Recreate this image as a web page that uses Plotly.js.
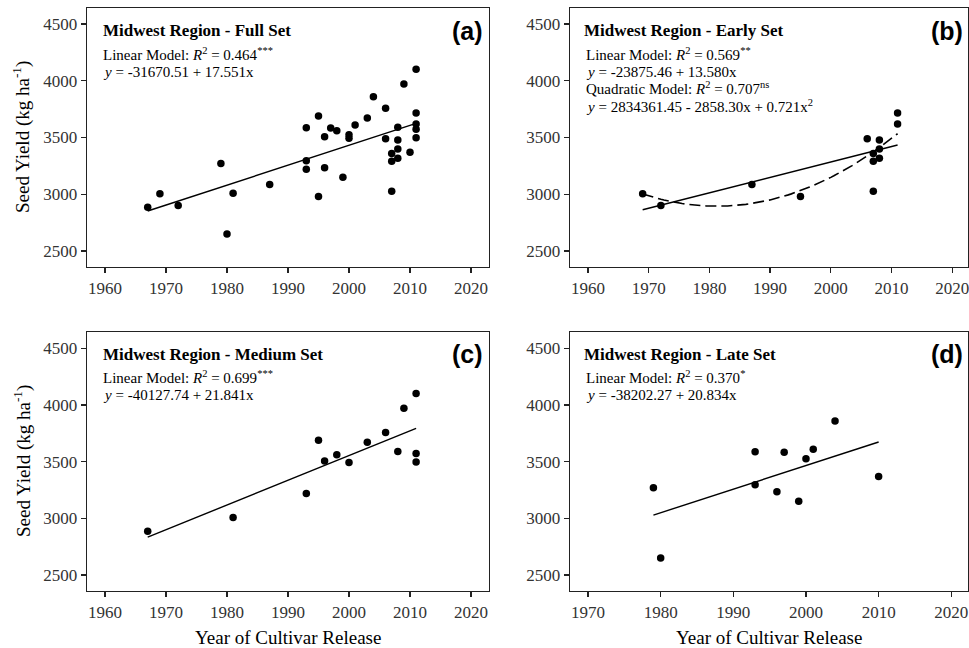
<!DOCTYPE html>
<html>
<head>
<meta charset="utf-8">
<script src="https://cdn.plot.ly/plotly-3.0.1.min.js"></script>
<style>html,body{margin:0;padding:0;background:#fff;}#chart{width:969px;height:648px;}</style>
</head>
<body>
<div id="chart"></div>
<script>
// ---------- data ----------
const earlyYear  = [1969, 1972, 1987, 1995, 2006, 2007, 2007, 2007, 2008, 2008, 2008, 2011, 2011];
const earlyYield = [3005, 2900, 3085, 2980, 3490, 3358, 3290, 3026, 3478, 3399, 3317, 3716, 3619];

const mediumYear  = [1967, 1981, 1993, 1995, 1996, 1998, 2000, 2003, 2006, 2008, 2009, 2011, 2011, 2011];
const mediumYield = [2885, 3008, 3220, 3690, 3507, 3560, 3493, 3672, 3757, 3590, 3971, 4101, 3572, 3498];

const lateYear  = [1979, 1980, 1993, 1993, 1996, 1997, 1999, 2000, 2001, 2004, 2010];
const lateYield = [3270, 2650, 3587, 3296, 3234, 3584, 3150, 3525, 3610, 3860, 3370];

const fullYear  = earlyYear.concat(mediumYear, lateYear);
const fullYield = earlyYield.concat(mediumYield, lateYield);

// linear model coefficients [intercept, slope] as printed on the chart
const fullLinear   = [-31670.51, 17.551];
const earlyLinear  = [-23875.46, 13.580];
const mediumLinear = [-40127.74, 21.841];
const lateLinear   = [-38202.27, 20.834];

const yTicks = [2500, 3000, 3500, 4000, 4500];
const xTicksA = [1960, 1970, 1980, 1990, 2000, 2010, 2020];
const xTicksD = [1970, 1980, 1990, 2000, 2010, 2020];

// ---------- helpers ----------
const W = 969, H = 648;
const px = v => v / W;
const py = v => 1 - v / H;
const minA = a => Math.min.apply(null, a);
const maxA = a => Math.max.apply(null, a);

function linLine(xs, coef, xa, ya) {
  const x0 = minA(xs), x1 = maxA(xs);
  return {x: [x0, x1], y: [coef[0] + coef[1] * x0, coef[0] + coef[1] * x1],
    xaxis: xa, yaxis: ya, mode: 'lines', type: 'scatter',
    line: {color: '#000', width: 1.4}, hoverinfo: 'skip'};
}

// least-squares quadratic fit of the early set (centered for stability)
function quadFit(xs, ys) {
  const n = xs.length;
  const m = xs.reduce((a, b) => a + b, 0) / n;
  let S = [0, 0, 0, 0, 0], T = [0, 0, 0];
  for (let i = 0; i < n; i++) {
    const t = xs[i] - m;
    for (let k = 0; k < 5; k++) S[k] += Math.pow(t, k);
    for (let k = 0; k < 3; k++) T[k] += ys[i] * Math.pow(t, k);
  }
  const A = [[S[0], S[1], S[2], T[0]], [S[1], S[2], S[3], T[1]], [S[2], S[3], S[4], T[2]]];
  for (let c = 0; c < 3; c++) {
    for (let r = c + 1; r < 3; r++) {
      const f = A[r][c] / A[c][c];
      for (let k = c; k < 4; k++) A[r][k] -= f * A[c][k];
    }
  }
  const b = [0, 0, 0];
  for (let r = 2; r >= 0; r--) {
    let s = A[r][3];
    for (let k = r + 1; k < 3; k++) s -= A[r][k] * b[k];
    b[r] = s / A[r][r];
  }
  return {m: m, b: b};
}
const qf = quadFit(earlyYear, earlyYield);
const qx = [], qy = [];
for (let x = minA(earlyYear); x <= maxA(earlyYear) + 1e-9; x += 0.5) {
  const t = x - qf.m;
  qx.push(x); qy.push(qf.b[0] + qf.b[1] * t + qf.b[2] * t * t);
}

function pts(xs, ys, xa, ya) {
  return {x: xs, y: ys, xaxis: xa, yaxis: ya, mode: 'markers', type: 'scatter',
    marker: {color: '#000', size: 7.5}, hoverinfo: 'skip'};
}

const data = [
  linLine(fullYear, fullLinear, 'x', 'y'),
  pts(fullYear, fullYield, 'x', 'y'),
  linLine(earlyYear, earlyLinear, 'x2', 'y2'),
  {x: qx, y: qy, xaxis: 'x2', yaxis: 'y2', mode: 'lines', type: 'scatter',
   line: {color: '#000', width: 1.6, dash: '11px,5px'}, hoverinfo: 'skip'},
  pts(earlyYear, earlyYield, 'x2', 'y2'),
  linLine(mediumYear, mediumLinear, 'x3', 'y3'),
  pts(mediumYear, mediumYield, 'x3', 'y3'),
  linLine(lateYear, lateLinear, 'x4', 'y4'),
  pts(lateYear, lateYield, 'x4', 'y4')
];

const tickFont = {family: 'Liberation Serif, Times New Roman, serif', size: 17, color: '#333'};
function xAx(domain, range, ticks, anchor) {
  return {domain: domain, range: range, anchor: anchor, tickmode: 'array', tickvals: ticks,
    ticktext: ticks.map(String), ticks: 'outside', ticklen: 5, tickwidth: 1.3, tickcolor: '#222',
    showline: true, mirror: true, linecolor: '#222', linewidth: 1.4, showgrid: false,
    zeroline: false, tickfont: tickFont, fixedrange: true, ticklabeloverflow: 'allow'};
}
function yAx(domain, range, anchor) {
  return {domain: domain, range: range, anchor: anchor, tickmode: 'array', tickvals: yTicks,
    ticktext: yTicks.map(String), ticks: 'outside', ticklen: 5, tickwidth: 1.3, tickcolor: '#222',
    showline: true, mirror: true, linecolor: '#222', linewidth: 1.4, showgrid: false,
    zeroline: false, tickfont: tickFont, fixedrange: true, ticklabeloverflow: 'allow'};
}

const serif = 'Liberation Serif, Times New Roman, serif';
const sans = 'Liberation Sans, Arial, sans-serif';
function txt(x, y, text, size, family, anchor) {
  return {xref: 'paper', yref: 'paper', x: px(x), y: py(y), text: text, showarrow: false,
    xanchor: anchor || 'left', yanchor: 'middle', font: {family: family || serif, size: size || 15, color: '#000'}};
}

const annotations = [
  txt(101, 31, '<b>Midwest Region - Full Set</b>', 17),
  txt(101, 54, 'Linear Model: <i>R</i><sup>2</sup> = 0.464<sup>***</sup>', 15),
  txt(101, 72, '<i>y</i> = -31670.51 + 17.551x', 15),
  txt(485, 31, '<b>(a)</b>', 25, sans, 'right'),

  txt(582, 31, '<b>Midwest Region - Early Set</b>', 17),
  txt(584, 54, 'Linear Model: <i>R</i><sup>2</sup> = 0.569<sup>**</sup>', 15),
  txt(584, 72, '<i>y</i> = -23875.46 + 13.580x', 15),
  txt(584, 88, 'Quadratic Model: <i>R</i><sup>2</sup> = 0.707<sup>ns</sup>', 15),
  txt(584, 106, '<i>y</i> = 2834361.45 - 2858.30x + 0.721x<sup>2</sup>', 15),
  txt(965, 31, '<b>(b)</b>', 25, sans, 'right'),

  txt(101, 354, '<b>Midwest Region - Medium Set</b>', 17),
  txt(101, 377, 'Linear Model: <i>R</i><sup>2</sup> = 0.699<sup>***</sup>', 15),
  txt(101, 395, '<i>y</i> = -40127.74 + 21.841x', 15),
  txt(485, 354, '<b>(c)</b>', 25, sans, 'right'),

  txt(582, 354, '<b>Midwest Region - Late Set</b>', 17),
  txt(584, 377, 'Linear Model: <i>R</i><sup>2</sup> = 0.370<sup>*</sup>', 15),
  txt(584, 395, '<i>y</i> = -38202.27 + 20.834x', 15),
  txt(965, 354, '<b>(d)</b>', 25, sans, 'right'),

  Object.assign(txt(22, 137, 'Seed Yield (kg ha<sup>-1</sup>)', 19, serif, 'center'), {textangle: -90}),
  Object.assign(txt(22, 461, 'Seed Yield (kg ha<sup>-1</sup>)', 19, serif, 'center'), {textangle: -90}),
  txt(288, 637, 'Year of Cultivar Release', 19, serif, 'center'),
  txt(769, 637, 'Year of Cultivar Release', 19, serif, 'center')
];

const layout = {
  width: W, height: H, margin: {l: 0, r: 0, t: 0, b: 0},
  paper_bgcolor: '#fff', plot_bgcolor: '#fff', showlegend: false,
  xaxis:  xAx([px(87), px(489)], [1957.05, 2022.95], xTicksA, 'y'),
  yaxis:  yAx([py(267), py(8)], [2359, 4641], 'x'),
  xaxis2: xAx([px(570), px(968)], [1957.03, 2022.6], xTicksA, 'y2'),
  yaxis2: yAx([py(267), py(8)], [2359, 4641], 'x2'),
  xaxis3: xAx([px(87), px(489)], [1957.05, 2022.95], xTicksA, 'y3'),
  yaxis3: yAx([py(591), py(332)], [2358, 4645], 'x3'),
  xaxis4: xAx([px(570), px(968)], [1967.52, 2022.3], xTicksD, 'y4'),
  yaxis4: yAx([py(591), py(332)], [2358, 4645], 'x4'),
  annotations: annotations
};

Plotly.newPlot('chart', data, layout, {displayModeBar: false, staticPlot: true});
</script>
</body>
</html>
